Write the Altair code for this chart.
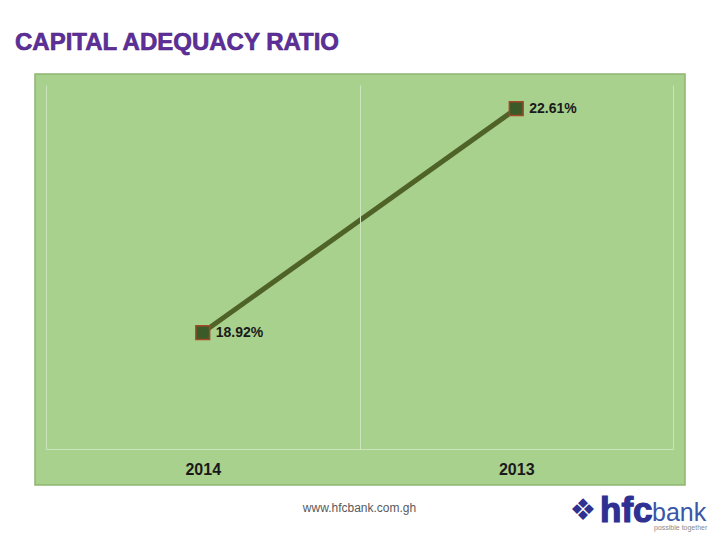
import altair as alt
import pandas as pd

years = ["2014", "2013"]
ratios = [18.92, 22.61]
labels = [f"{v:.2f}%" for v in ratios]

df = pd.DataFrame({"year": years, "ratio": ratios, "label": labels})
one = alt.Data(values=[{"k": 1}])

FONT = "Liberation Sans"

bg = alt.Chart(one).mark_rect(
    fill="#A9D18E", stroke="#8DB56F", strokeWidth=1.5
).encode(
    x=alt.value(-11), x2=alt.value(639), y=alt.value(-11), y2=alt.value(400)
)

xenc = alt.X(
    "year:N", sort=years, title=None,
    scale=alt.Scale(type="band", paddingInner=0, paddingOuter=0),
    axis=alt.Axis(
        tickBand="extent", grid=True, gridColor="#CDE5BD", gridWidth=1, gridOpacity=1,
        ticks=False, domain=True, domainColor="#CDE5BD", domainWidth=1,
        labelFont=FONT, labelFontWeight="bold", labelFontSize=16, labelColor="#1A1A1A",
        labelAngle=0, labelPadding=20, labelBaseline="middle", zindex=1,
    ),
)
yenc = alt.Y("ratio:Q", scale=alt.Scale(domain=[17, 23], nice=False, zero=False), axis=None)

base = alt.Chart(df).encode(x=xenc, y=yenc)

line = base.mark_line(color="#4F6228", strokeWidth=5)
pts = base.mark_square(size=190, fill="#3A5A27", stroke="#A4482B", strokeWidth=1.5, opacity=1)
txt = base.mark_text(align="left", dx=13, font=FONT, fontWeight="bold", fontSize=14, color="#1A1A1A").encode(text="label:N")

title = alt.Chart(one).mark_text(
    text="CAPITAL ADEQUACY RATIO", align="left", baseline="alphabetic",
    font=FONT, fontWeight="bold", fontSize=24, fill="#5E2F9A", stroke="#4A2380", strokeWidth=0.6
).encode(x=alt.value(-31), y=alt.value(-35))

footer = alt.Chart(one).mark_text(
    text="www.hfcbank.com.gh", align="center", baseline="middle",
    font=FONT, fontSize=12, color="#595959"
).encode(x=alt.value(313.5), y=alt.value(423))

icon = alt.Chart(one).mark_text(
    text="❖", align="center", baseline="middle", font="DejaVu Sans", fontSize=30, color="#2E3192"
).encode(x=alt.value(537), y=alt.value(426))

hfc = alt.Chart(one).mark_text(
    text="hfc", align="left", baseline="alphabetic", font=FONT, fontWeight="bold", fontSize=35,
    color="#2E3192", stroke="#2E3192", strokeWidth=1.2
).encode(x=alt.value(554), y=alt.value(437))

bank = alt.Chart(one).mark_text(
    text="bank", align="left", baseline="alphabetic", font=FONT, fontSize=25, color="#3A56A8"
).encode(x=alt.value(606), y=alt.value(436))

tag = alt.Chart(one).mark_text(
    text="possible together", align="left", baseline="alphabetic", font=FONT, fontSize=7, color="#8A8A8A"
).encode(x=alt.value(608), y=alt.value(445))

chart = alt.layer(bg, line, pts, txt, title, footer, icon, hfc, bank, tag).properties(
    width=627, height=364,
    autosize=alt.AutoSizeParams(type="none"),
    padding={"left": 38, "top": 77, "right": 39, "bottom": 83},
    background="white",
).configure_view(stroke=None)

chart.save("out.html", embed_options={"renderer": "svg", "actions": False})
